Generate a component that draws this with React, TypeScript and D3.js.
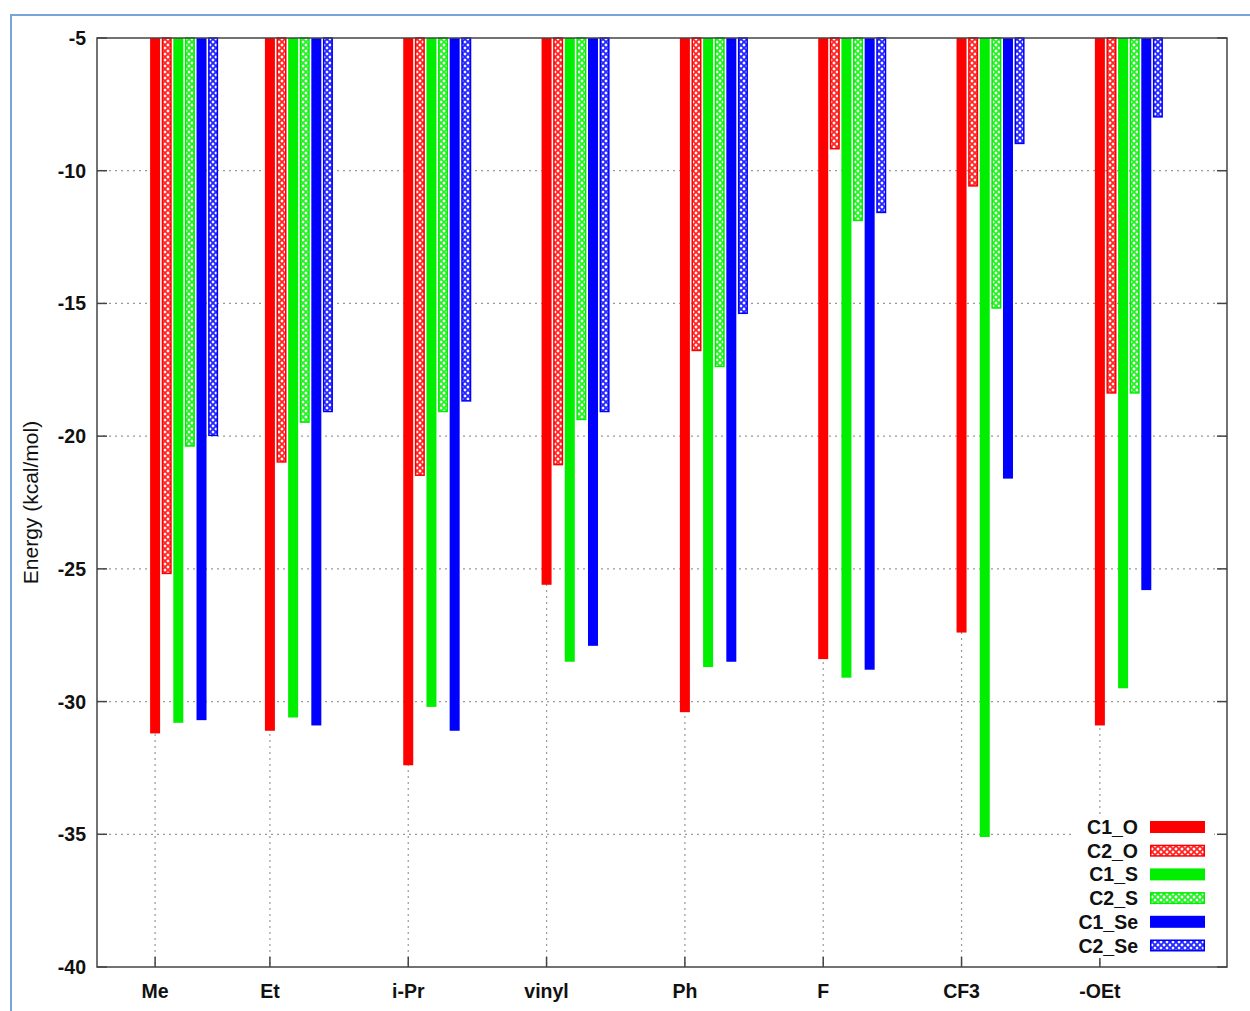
import React, { useRef, useEffect } from "react";
import * as d3 from "d3";

// categories and their x positions (plot units)
const categories = ["Me", "Et", "i-Pr", "vinyl", "Ph", "F", "CF3", "-OEt"];
const catPositions = [0.17, 1, 2, 3, 4, 5, 6, 7];

const seriesNames = ["C1_O", "C2_O", "C1_S", "C2_S", "C1_Se", "C2_Se"];
const seriesColors = ["#ff0000", "#ff0000", "#00ee00", "#00ee00", "#0000ff", "#0000ff"];
const seriesPatterned = [false, true, false, true, false, true];

const c1O = [-31.2, -31.1, -32.4, -25.6, -30.4, -28.4, -27.4, -30.9];
const c2O = [-25.2, -21.0, -21.5, -21.1, -16.8, -9.2, -10.6, -18.4];
const c1S = [-30.8, -30.6, -30.2, -28.5, -28.7, -29.1, -35.1, -29.5];
const c2S = [-20.4, -19.5, -19.1, -19.4, -17.4, -11.9, -15.2, -18.4];
const c1Se = [-30.7, -30.9, -31.1, -27.9, -28.5, -28.8, -21.6, -25.8];
const c2Se = [-20.0, -19.1, -18.7, -19.1, -15.4, -11.6, -9.0, -8.0];
const seriesValues = [c1O, c2O, c1S, c2S, c1Se, c2Se];

const yTicks = [-5, -10, -15, -20, -25, -30, -35, -40];

const W = 1250;
const H = 1011;

const App = () => {
    const svgRef = useRef<SVGSVGElement | null>(null);

    useEffect(() => {
        const svg = d3.select(svgRef.current);
        svg.selectAll("*").remove();

        const left = 97, right = 1227, top = 38, bottom = 967;
        const font = "'Liberation Sans', Arial, sans-serif";
        const fs = 19.5;

        const x = d3.scaleLinear().domain([-0.25, 7.919]).range([left, right]);
        const y = d3.scaleLinear().domain([-5, -40]).range([top, bottom]);

        // patterns
        const defs = svg.append("defs");
        seriesColors.forEach((c, i) => {
            if (!seriesPatterned[i]) return;
            const p = defs.append("pattern")
                .attr("id", "pat" + i)
                .attr("patternUnits", "userSpaceOnUse")
                .attr("width", 6)
                .attr("height", 6);
            p.append("rect").attr("width", 6).attr("height", 6).attr("fill", "#fff");
            p.append("path")
                .attr("d", "M0,0L6,6M6,0L0,6M-1,5L1,7M5,-1L7,1M-1,1L1,-1M5,7L7,5")
                .attr("stroke", c)
                .attr("stroke-width", 1.9)
                .attr("stroke-opacity", 0.85);
        });

        svg.append("rect").attr("width", W).attr("height", H).attr("fill", "#fff");

        // outer light-blue border
        svg.append("path")
            .attr("d", `M11,${H}L11,15L${W},15`)
            .attr("fill", "none")
            .attr("stroke", "#7aa3d8")
            .attr("stroke-width", 2);

        // grid
        const grid = svg.append("g")
            .attr("stroke", "#999")
            .attr("stroke-width", 1.2)
            .attr("stroke-dasharray", "2,4");
        yTicks.slice(1, -1).forEach(t => {
            grid.append("line")
                .attr("x1", left).attr("x2", right)
                .attr("y1", y(t)).attr("y2", y(t));
        });
        catPositions.forEach(p => {
            grid.append("line")
                .attr("x1", x(p)).attr("x2", x(p))
                .attr("y1", top).attr("y2", bottom);
        });

        // bars
        const step = x(0.0839) - x(0);
        const bw = x(0.0723) - x(0);
        seriesValues.forEach((vals, s) => {
            const g = svg.append("g");
            vals.forEach((v, i) => {
                const bx = x(catPositions[i]) - bw / 2 + s * step;
                if (seriesPatterned[s]) {
                    g.append("rect")
                        .attr("x", bx + 0.75)
                        .attr("y", y(-5))
                        .attr("width", bw - 1.5)
                        .attr("height", y(v) - y(-5) - 0.75)
                        .attr("fill", `url(#pat${s})`)
                        .attr("stroke", seriesColors[s])
                        .attr("stroke-width", 1.5);
                } else {
                    g.append("rect")
                        .attr("x", bx)
                        .attr("y", y(-5))
                        .attr("width", bw)
                        .attr("height", y(v) - y(-5))
                        .attr("fill", seriesColors[s]);
                }
            });
        });

        // ticks (inward, mirrored)
        const ticks = svg.append("g").attr("stroke", "#444").attr("stroke-width", 1.5);
        yTicks.forEach(t => {
            ticks.append("line").attr("x1", left).attr("x2", left + 10).attr("y1", y(t)).attr("y2", y(t));
            ticks.append("line").attr("x1", right).attr("x2", right - 10).attr("y1", y(t)).attr("y2", y(t));
        });
        catPositions.forEach(p => {
            ticks.append("line").attr("x1", x(p)).attr("x2", x(p)).attr("y1", bottom).attr("y2", bottom - 10);
        });

        // legend
        const lg = svg.append("g");
        lg.append("rect")
            .attr("x", 1074).attr("y", 814)
            .attr("width", 140).attr("height", 144)
            .attr("fill", "#fff");
        seriesNames.forEach((name, i) => {
            const ly = 827 + i * 23.7;
            lg.append("text")
                .attr("x", 1138)
                .attr("y", ly)
                .attr("dy", "0.36em")
                .attr("text-anchor", "end")
                .attr("font-family", font)
                .attr("font-weight", "bold")
                .attr("font-size", fs)
                .attr("fill", "#111")
                .text(name);
            if (seriesPatterned[i]) {
                lg.append("rect")
                    .attr("x", 1150.75).attr("y", ly - 5.25)
                    .attr("width", 53.5).attr("height", 10.5)
                    .attr("fill", `url(#pat${i})`)
                    .attr("stroke", seriesColors[i])
                    .attr("stroke-width", 1.5);
            } else {
                lg.append("rect")
                    .attr("x", 1150).attr("y", ly - 6)
                    .attr("width", 55).attr("height", 12)
                    .attr("fill", seriesColors[i]);
            }
        });

        // frame
        svg.append("rect")
            .attr("x", left).attr("y", top)
            .attr("width", right - left).attr("height", bottom - top)
            .attr("fill", "none")
            .attr("stroke", "#444")
            .attr("stroke-width", 1.5);

        // tick labels
        yTicks.forEach(t => {
            svg.append("text")
                .attr("x", 86)
                .attr("y", y(t))
                .attr("dy", "0.36em")
                .attr("text-anchor", "end")
                .attr("font-family", font)
                .attr("font-weight", "bold")
                .attr("font-size", fs)
                .attr("fill", "#111")
                .text(t);
        });
        categories.forEach((c, i) => {
            svg.append("text")
                .attr("x", x(catPositions[i]))
                .attr("y", 991)
                .attr("dy", "0.36em")
                .attr("text-anchor", "middle")
                .attr("font-family", font)
                .attr("font-weight", "bold")
                .attr("font-size", fs)
                .attr("fill", "#111")
                .text(c);
        });

        // y title
        svg.append("text")
            .attr("transform", `translate(30,${(top + bottom) / 2}) rotate(-90)`)
            .attr("dy", "0.36em")
            .attr("text-anchor", "middle")
            .attr("font-family", font)
            .attr("font-size", 21)
            .attr("fill", "#111")
            .text("Energy (kcal/mol)");
    }, []);

    return (
        <svg
            ref={svgRef}
            width={W}
            height={H}
            style={{ position: "absolute", left: 0, top: 0 }}
        ></svg>
    );
};

export default App;
